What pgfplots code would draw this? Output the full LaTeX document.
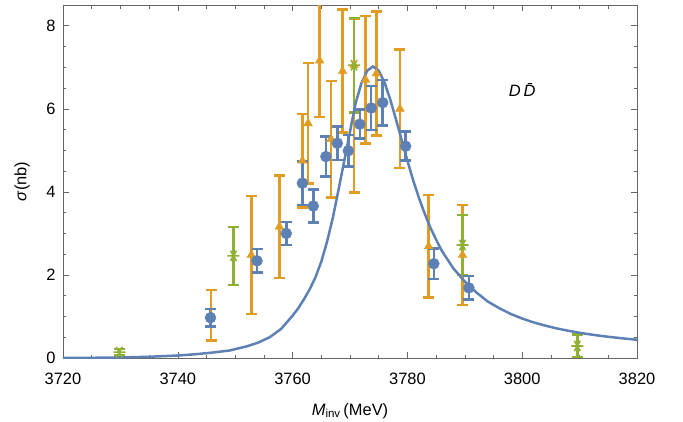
\documentclass[border=0pt]{standalone}
\usepackage{pgfplots}
\pgfplotsset{compat=1.18}
\usepackage{fontspec}
\setmainfont{Liberation Sans}
\definecolor{mblue}{rgb}{0.368417,0.506779,0.709798}
\definecolor{morange}{rgb}{0.880722,0.611041,0.142051}
\definecolor{mgreen}{rgb}{0.560181,0.691569,0.194885}
\definecolor{frame}{gray}{0.4}
\pgfplotstableread{
x y ep em
3745.8 1.03 0.61 0.61
3752.8 2.48 1.42 1.42
3757.7 3.16 1.23 1.23
3761.7 4.75 1.13 1.13
3762.7 5.65 1.45 1.45
3764.7 7.16 1.36 1.36
3766.7 5.27 1.40 1.40
3768.7 6.91 1.48 1.48
3770.7 7.05 1.13 3.07
3772.7 6.70 1.53 1.53
3774.6 6.85 1.49 1.49
3778.7 6.00 1.43 1.43
3783.7 2.69 1.23 1.23
3789.6 2.48 1.20 1.20
}\orangedata
\pgfplotstableread{
x y e
3729.8 0.14 0.08
3749.7 2.46 0.70
3770.7 7.05 1.14
3789.6 2.72 0.72
3809.6 0.29 0.27
}\greendata
\pgfplotstableread{
x y e
3745.7 0.97 0.21
3753.8 2.34 0.28
3758.9 3.00 0.28
3761.7 4.21 0.52
3763.6 3.66 0.40
3765.8 4.85 0.48
3767.8 5.17 0.40
3769.7 4.99 0.38
3771.7 5.63 0.35
3773.7 6.02 0.53
3775.7 6.15 0.55
3779.7 5.10 0.35
3784.6 2.27 0.37
3790.7 1.69 0.28
}\bluedata
\pgfplotstableread{
x y
3720 0.000
3725 0.005
3730 0.012
3735 0.030
3740 0.060
3743 0.090
3746 0.130
3749 0.180
3752 0.280
3754 0.370
3756 0.500
3758 0.700
3760 1.020
3761 1.200
3762 1.420
3763 1.660
3764 1.950
3765 2.320
3766 2.800
3767 3.370
3768 4.050
3769 4.750
3770 5.450
3771 6.150
3772 6.620
3773 6.920
3774 7.020
3775 6.920
3776 6.640
3777 6.230
3778 5.750
3779 5.250
3780 4.750
3781 4.280
3782 3.860
3783 3.480
3784 3.140
3785 2.850
3786 2.580
3788 2.160
3790 1.840
3792 1.580
3794 1.360
3796 1.200
3798 1.060
3800 0.950
3802 0.857
3804 0.780
3806 0.713
3808 0.657
3810 0.607
3812 0.565
3814 0.527
3817 0.480
3820 0.439
}\curvedata
\begin{document}
\begin{tikzpicture}
\useasboundingbox (-63bp,-64bp) rectangle (620bp,358bp);
\begin{axis}[
  at={(0,0)}, anchor=south west,
  scale only axis, width=574bp, height=353bp,
  xmin=3720, xmax=3820, ymin=0, ymax=8.5,
  xtick={3720,3740,...,3820}, ytick={0,2,4,6,8},
  minor x tick num=3, minor y tick num=3,
  tick align=inside,
  major tick length=6bp, minor tick length=3.5bp,
  axis line style={frame, line width=0.8pt},
  every tick/.style={frame, line width=0.6pt},
  /pgf/number format/assume math mode=true,
  /pgf/number format/1000 sep={},
  tick label style={font=\fontsize{16.5}{19}\selectfont, text=black},
  xticklabel style={yshift=-12bp},
  yticklabel style={xshift=-4bp},
  xlabel={\textit{M}\textsubscript{inv}\,(MeV)},
  ylabel={\textit{σ}(nb)},
  label style={font=\fontsize{16.5}{19}\selectfont, text=black},
  xlabel style={at={(axis description cs:0.5,-0.1615)}, anchor=base},
  ylabel style={at={(axis description cs:-0.0714,0.5)}, anchor=center},
]
\addplot[morange, only marks, mark=triangle*, mark size=5bp,
  error bars/.cd, y dir=both, y explicit,
  error bar style={morange, line width=2.5bp},
  error mark options={morange, line width=2.5bp, mark size=5.5bp, rotate=90}]
  table[x=x, y=y, y error plus=ep, y error minus=em]{\orangedata};
\addplot[mgreen, only marks, mark=asterisk, mark size=6bp, mark options={rotate=90, line width=1.6pt},
  error bars/.cd, y dir=both, y explicit,
  error bar style={mgreen, line width=2.5bp},
  error mark options={mgreen, line width=2.5bp, mark size=5.5bp, rotate=90}]
  table[x=x, y=y, y error=e]{\greendata};
\addplot[mblue, only marks, mark=*, mark size=5.5bp,
  error bars/.cd, y dir=both, y explicit,
  error bar style={mblue, line width=2.5bp},
  error mark options={mblue, line width=2.5bp, mark size=5.5bp, rotate=90}]
  table[x=x, y=y, y error=e]{\bluedata};
\addplot[mblue, line width=2.5bp, no markers] table[x=x, y=y]{\curvedata};
\node[font=\fontsize{16.5}{19}\selectfont, text=black] at (axis cs:3800.2,6.45) {\textit{D}\,\textit{\=D}};
\end{axis}
\end{tikzpicture}
\end{document}
